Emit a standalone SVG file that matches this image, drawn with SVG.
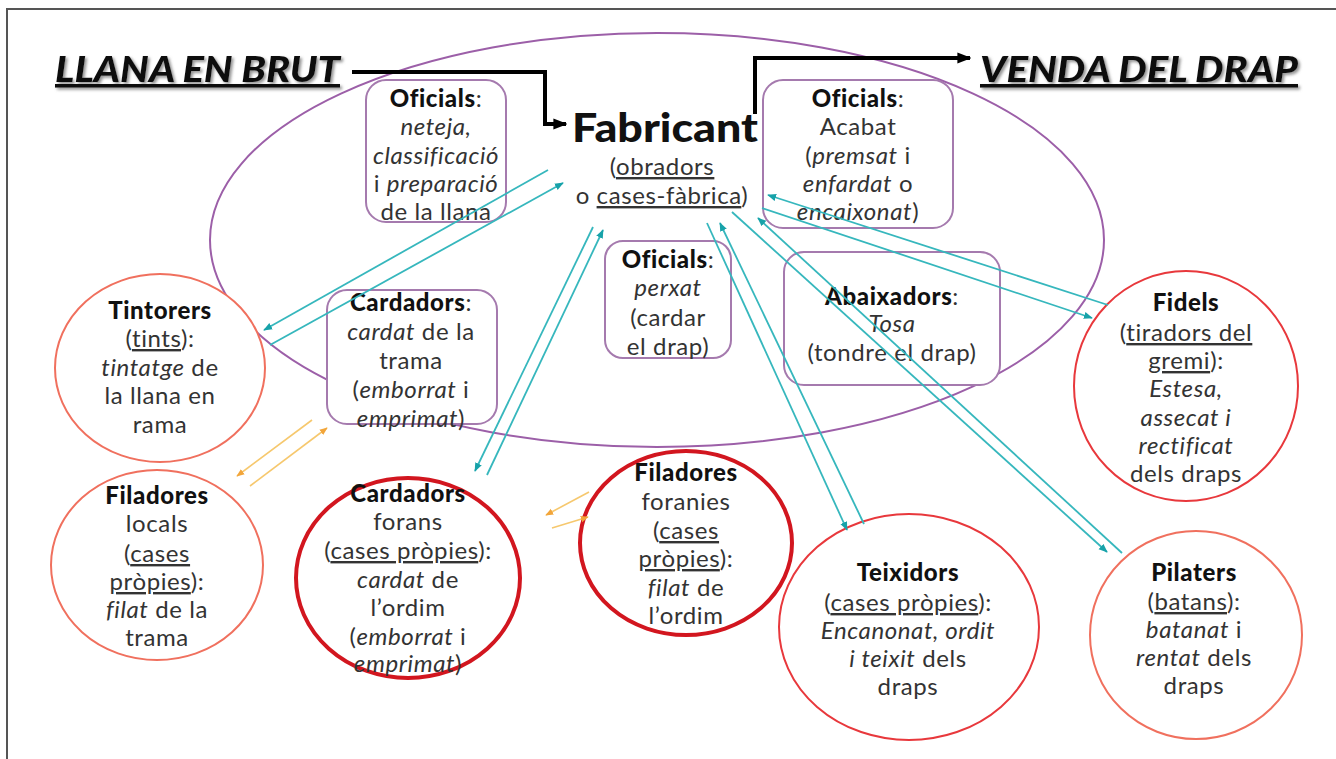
<svg xmlns="http://www.w3.org/2000/svg" width="1336" height="759" viewBox="0 0 1336 759">
<defs>
<style>
.t{font-family:Lato,"Noto Sans","Liberation Sans",sans-serif;font-size:24px;letter-spacing:0.6px;fill:#333;text-anchor:middle}
.b{font-weight:900;fill:#111}
.i{font-style:italic}
.u{text-decoration:underline}
.ttl{font-family:Lato,"Liberation Sans",sans-serif;font-size:36px;font-weight:900;font-style:italic;fill:#111;text-decoration:underline}
.box{fill:#fff;stroke:#a57aae;stroke-width:2}
.c1{fill:#fff;stroke:#f0705e;stroke-width:2}
.c2{fill:#fff;stroke:#e8383c;stroke-width:2}
.c3{fill:#fff;stroke:#d2161f;stroke-width:4}
.cy{fill:none;stroke:#36b7bd;stroke-width:1.8;marker-end:url(#ac)}
.or{fill:none;stroke:#f6c86e;stroke-width:1.6;marker-end:url(#ao)}
.bk{fill:none;stroke:#000;stroke-width:4;marker-end:url(#ab)}
</style>
<marker id="ac" viewBox="0 0 10 10" refX="9" refY="5" markerWidth="9" markerHeight="9" markerUnits="userSpaceOnUse" orient="auto"><path d="M0,1 L10,5 L0,9 z" fill="#17a2a9"/></marker>
<marker id="ao" viewBox="0 0 10 10" refX="9" refY="5" markerWidth="8" markerHeight="8" markerUnits="userSpaceOnUse" orient="auto"><path d="M0,1 L10,5 L0,9 z" fill="#f2a53a"/></marker>
<marker id="ab" viewBox="0 0 10 10" refX="9" refY="5" markerWidth="14" markerHeight="14" markerUnits="userSpaceOnUse" orient="auto"><path d="M0,1 L10,5 L0,9 z" fill="#000"/></marker>
<filter id="sh" x="-5%" y="-20%" width="115%" height="150%"><feDropShadow dx="2" dy="2" stdDeviation="1.5" flood-color="#777" flood-opacity="0.8"/></filter>
</defs>
<rect x="0" y="0" width="1336" height="759" fill="#fff"/>
<rect x="7" y="9" width="1340" height="760" fill="none" stroke="#555" stroke-width="2"/>

<ellipse id="fabrica-ellipse" cx="657" cy="240" rx="447" ry="207" fill="none" stroke="#9c5fa8" stroke-width="2"/>

<g id="oficials-neteja">
<rect class="box" x="366" y="80" width="140" height="142" rx="20"/>
<text class="t" x="436" y="107"><tspan class="b">Oficials</tspan>:</text>
<text class="t i" x="436" y="135">neteja,</text>
<text class="t i" x="436" y="164">classificació</text>
<text class="t" x="436" y="192">i <tspan class="i">preparació</tspan></text>
<text class="t" x="436" y="220">de la llana</text>
</g>

<g id="fabricant">
<text class="t b" x="665" y="142" style="font-size:40px;letter-spacing:0" textLength="186" lengthAdjust="spacingAndGlyphs">Fabricant</text>
<text class="t" x="662" y="175">(<tspan class="u">obradors</tspan></text>
<text class="t" x="662" y="204">o <tspan class="u">cases-fàbrica</tspan>)</text>
</g>

<g id="oficials-acabat">
<rect class="box" x="763" y="80" width="190" height="148" rx="20"/>
<text class="t" x="858" y="107"><tspan class="b">Oficials</tspan>:</text>
<text class="t" x="858" y="135">Acabat</text>
<text class="t" x="858" y="164">(<tspan class="i">premsat</tspan> i</text>
<text class="t" x="858" y="192"><tspan class="i">enfardat</tspan> o</text>
<text class="t" x="858" y="220"><tspan class="i">encaixonat</tspan>)</text>
</g>

<g id="oficials-perxat">
<rect class="box" x="605" y="241" width="126" height="117" rx="18"/>
<text class="t" x="668" y="268"><tspan class="b">Oficials</tspan>:</text>
<text class="t i" x="668" y="296">perxat</text>
<text class="t" x="668" y="326">(cardar</text>
<text class="t" x="668" y="355">el drap)</text>
</g>

<g id="abaixadors">
<rect class="box" x="784" y="252" width="216" height="133" rx="20"/>
<text class="t" x="892" y="305"><tspan class="b">Abaixadors</tspan>:</text>
<text class="t i" x="892" y="332">Tosa</text>
<text class="t" x="892" y="361">(tondre el drap)</text>
</g>

<g id="cardadors-trama">
<rect class="box" x="327" y="290" width="170" height="134" rx="20"/>
<text class="t" x="411" y="311"><tspan class="b">Cardadors</tspan>:</text>
<text class="t" x="411" y="340"><tspan class="i">cardat</tspan> de la</text>
<text class="t" x="411" y="369">trama</text>
<text class="t" x="411" y="398">(<tspan class="i">emborrat</tspan> i</text>
<text class="t" x="411" y="427"><tspan class="i">emprimat</tspan>)</text>
</g>

<g id="tintorers">
<ellipse class="c1" cx="160" cy="368" rx="105" ry="94"/>
<text class="t b" x="160" y="319">Tintorers</text>
<text class="t" x="160" y="347">(<tspan class="u">tints</tspan>):</text>
<text class="t" x="160" y="376"><tspan class="i">tintatge</tspan> de</text>
<text class="t" x="160" y="404">la llana en</text>
<text class="t" x="160" y="433">rama</text>
</g>

<g id="filadores-locals">
<ellipse class="c1" cx="157" cy="565" rx="106" ry="95"/>
<text class="t b" x="157" y="504">Filadores</text>
<text class="t" x="157" y="532">locals</text>
<text class="t" x="157" y="562">(<tspan class="u">cases</tspan></text>
<text class="t" x="157" y="590"><tspan class="u">pròpies</tspan>):</text>
<text class="t" x="157" y="618"><tspan class="i">filat</tspan> de la</text>
<text class="t" x="157" y="646">trama</text>
</g>

<g id="cardadors-forans">
<ellipse class="c3" cx="408" cy="578" rx="112" ry="100"/>
<text class="t b" x="408" y="502">Cardadors</text>
<text class="t" x="408" y="530">forans</text>
<text class="t" x="408" y="559">(<tspan class="u">cases pròpies</tspan>):</text>
<text class="t" x="408" y="588"><tspan class="i">cardat</tspan> de</text>
<text class="t" x="408" y="616">l’ordim</text>
<text class="t" x="408" y="645">(<tspan class="i">emborrat</tspan> i</text>
<text class="t" x="408" y="672"><tspan class="i">emprimat</tspan>)</text>
</g>

<g id="filadores-foranies">
<ellipse class="c3" cx="686" cy="543" rx="106" ry="92"/>
<text class="t b" x="686" y="481">Filadores</text>
<text class="t" x="686" y="510">foranies</text>
<text class="t" x="686" y="539">(<tspan class="u">cases</tspan></text>
<text class="t" x="686" y="567"><tspan class="u">pròpies</tspan>):</text>
<text class="t" x="686" y="596"><tspan class="i">filat</tspan> de</text>
<text class="t" x="686" y="624">l’ordim</text>
</g>

<g id="teixidors">
<ellipse class="c2" cx="909" cy="627" rx="130" ry="113"/>
<text class="t b" x="908" y="581">Teixidors</text>
<text class="t" x="908" y="611">(<tspan class="u">cases pròpies</tspan>):</text>
<text class="t i" x="908" y="639">Encanonat, ordit</text>
<text class="t" x="908" y="667"><tspan class="i">i teixit</tspan> dels</text>
<text class="t" x="908" y="695">draps</text>
</g>

<g id="pilaters">
<ellipse class="c1" cx="1196" cy="635" rx="106" ry="104"/>
<text class="t b" x="1194" y="581">Pilaters</text>
<text class="t" x="1194" y="610">(<tspan class="u">batans</tspan>):</text>
<text class="t" x="1194" y="638"><tspan class="i">batanat</tspan> i</text>
<text class="t" x="1194" y="666"><tspan class="i">rentat</tspan> dels</text>
<text class="t" x="1194" y="694">draps</text>
</g>

<g id="fidels">
<ellipse class="c2" cx="1186" cy="386" rx="112" ry="115"/>
<text class="t b" x="1186" y="311">Fidels</text>
<text class="t" x="1186" y="341">(<tspan class="u">tiradors del</tspan></text>
<text class="t" x="1186" y="369"><tspan class="u">gremi</tspan>):</text>
<text class="t i" x="1186" y="397">Estesa,</text>
<text class="t i" x="1186" y="426">assecat i</text>
<text class="t i" x="1186" y="454">rectificat</text>
<text class="t" x="1186" y="482">dels draps</text>
</g>

<g id="connectors">
<path class="cy" d="M548,170 L264,330"/>
<path class="cy" d="M270,345 L563,183"/>
<path class="cy" d="M593,227 L475,471"/>
<path class="cy" d="M487,475 L603,230"/>
<path class="cy" d="M707,223 L847,530"/>
<path class="cy" d="M864,524 L720,223"/>
<path class="cy" d="M732,212 L1107,552"/>
<path class="cy" d="M1122,553 L758,218"/>
<path class="cy" d="M762,208 L1092,318"/>
<path class="cy" d="M1108,305 L768,195"/>
<path class="or" d="M312,420 L237,476"/>
<path class="or" d="M250,486 L327,428"/>
<path class="or" d="M589,492 L546,515"/>
<path class="or" d="M552,528 L588,517"/>
<path class="bk" d="M352,72 H545 V124 H566"/>
<path class="bk" d="M755,114 V58 H970"/>
</g>

<g id="titles">
<text class="ttl" x="55" y="82" textLength="285" lengthAdjust="spacingAndGlyphs" filter="url(#sh)">LLANA EN BRUT</text>
<text class="ttl" x="980" y="82" textLength="318" lengthAdjust="spacingAndGlyphs" filter="url(#sh)">VENDA DEL DRAP</text>
</g>
</svg>
